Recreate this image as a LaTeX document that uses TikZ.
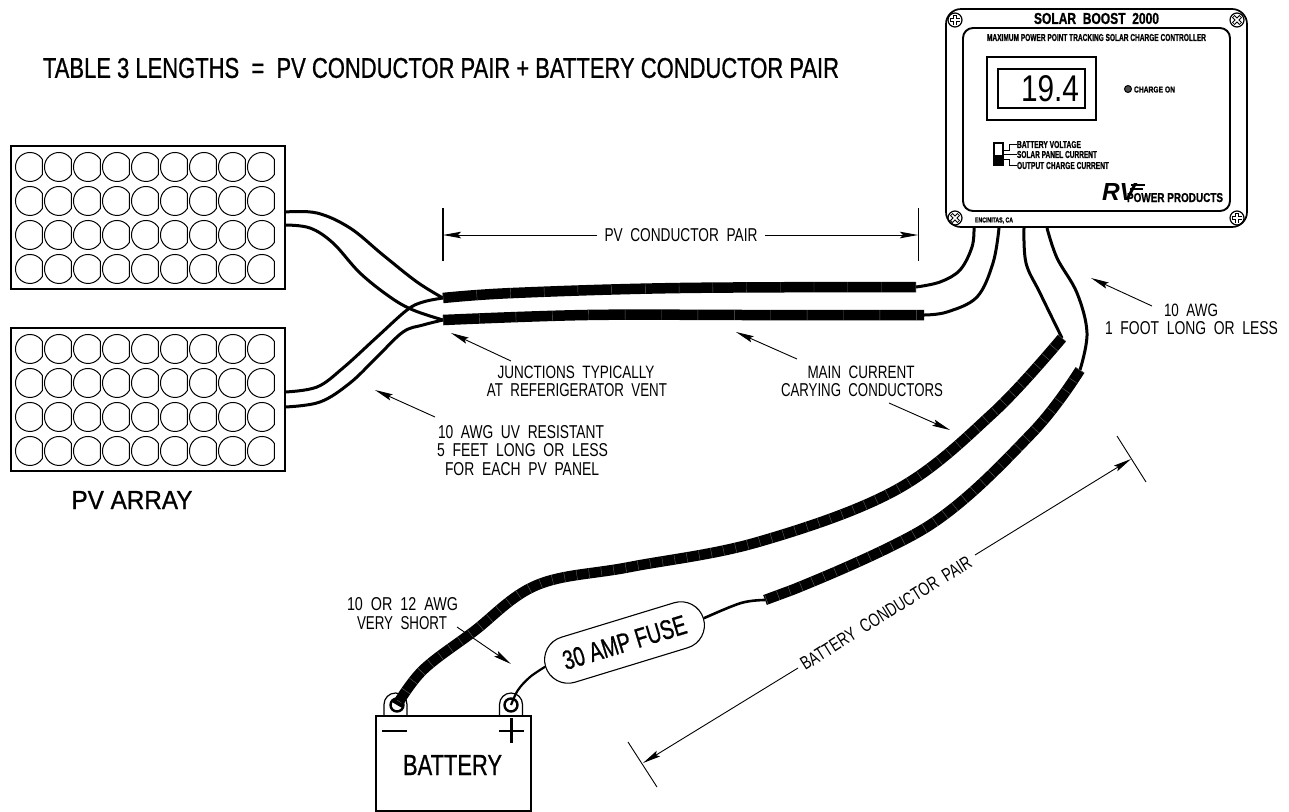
\documentclass[tikz,border=0pt]{standalone}
\usepackage{graphicx}
\usepackage{fontspec}
\setmainfont{Liberation Sans}
\newfontfamily\medf[FakeBold=.9]{Liberation Sans}
\newfontfamily\ctlfam[BoldFeatures={FakeBold=1.2}]{Liberation Sans}
\newcommand\ctl{\ctlfam\bfseries}
\usetikzlibrary{arrows.meta,shapes.misc}
\newlength\px \setlength\px{.75pt}
\newcommand\fitt[3]{\resizebox{#1\px}{#2\px}{#3}}
\newcommand\cable[3]{\draw[#1] #3; \draw[#1,black!62,line width=10\px,dash pattern=on .3pt off #2pt] #3;}
\newcommand\screw[3]{%
  \draw[thinline,line width=1.2\px] (#1,#2) circle[radius=7\px];
  \begin{scope}[shift={(#1,#2)},rotate=#3]
    \draw[line width=3.6\px] (-5.2\px,0pt)--(5.2\px,0pt) (0pt,-5.2\px)--(0pt,5.2\px);
    \draw[white,line width=1.6\px] (-4.5\px,0pt)--(4.5\px,0pt) (0pt,-4.5\px)--(0pt,4.5\px);
  \end{scope}}
\tikzset{
  thinline/.style={line width=1\px,black},
  boxline/.style={line width=1.4\px,black},
  lbl/.style={inner sep=0pt,outer sep=0pt,black},
  arrowline/.style={line width=.9\px,black,-{Stealth[length=13.5pt,width=4.9pt,inset=2.25pt]}},
  dimline/.style={line width=.9\px,black},
  wire/.style={line width=3\px,black,line cap=butt},
  fatwire/.style={line width=10.5\px,black,line cap=butt},
  lug/.style={line width=1.2\px,black},
  cell/.style={line width=1\px,black},
}
\begin{document}
\begin{tikzpicture}[x=.75pt,y=-.75pt]
\useasboundingbox[fill=white] (0,0) rectangle (1289,811);

% title
\node[lbl] (title) at (441,68) {\fitt{796}{20}{\medf TABLE 3 LENGTHS\ \ =\ \ PV CONDUCTOR PAIR + BATTERY CONDUCTOR PAIR}};

% PV panels
\node[draw,boxline,rectangle,minimum width=274\px,minimum height=143\px,inner sep=0pt] (panelA) at (148,217.5) {};
\node[draw,boxline,rectangle,minimum width=274\px,minimum height=143\px,inner sep=0pt] (panelB) at (148,399.5) {};
\foreach \cy in {167,201,235,269,349,383,417,451}
  \foreach \cx in {30,59,88,117,146,175,204,233,262}
    \draw[cell] (\cx+12.4,\cy-7.5) arc[start angle=31,end angle=329,radius=14.5\px] -- cycle;
\node[lbl] (pvarray) at (132,500) {\fitt{121}{18}{\medf PV ARRAY}};

% named wire ends
\coordinate (a1) at (285,212);
\coordinate (a2) at (285,225);
\coordinate (b1) at (285,392);
\coordinate (b2) at (285,407);
\coordinate (j1) at (443,298);
\coordinate (j2) at (443,320);
\coordinate (e1) at (916,287);
\coordinate (e2) at (924,315);
\coordinate (c1) at (974,228);
\coordinate (c2) at (999,228);
\coordinate (c3) at (1024,228);
\coordinate (c4) at (1047,228);
\coordinate (k3) at (1062,338);
\coordinate (k4) at (1080,370);
\coordinate (neg) at (397,705);
\coordinate (pos) at (511,705);

% panel leads
\draw[wire] plot[smooth,tension=.6] coordinates {(a1) (317,213) (350,228) (383,255) (417,282) (j1)};
\draw[wire] plot[smooth,tension=.6] coordinates {(a2) (310,228) (333,243) (360,273) (390,297) (413,310) (j2)};
\draw[wire] plot[smooth,tension=.6] coordinates {(b1) (317,387) (343,368) (377,337) (407,310) (423,302) (j1)};
\draw[wire] plot[smooth,tension=.6] coordinates {(b2) (320,402) (350,383) (377,357) (403,332) (423,325) (j2)};

% PV conductor pair
\cable{fatwire}{25}{plot[smooth,tension=.6] coordinates {(j1) (513,293) (680,288) (e1)}}
\cable{fatwire}{27}{plot[smooth,tension=.6] coordinates {(j2) (587,315) (750,315) (e2)}}

% controller leads
\draw[wire] plot[smooth,tension=.6] coordinates {(e1) (940,282) (960,270) (972,247) (c1)};
\draw[wire] plot[smooth,tension=.6] coordinates {(e2) (947,312) (977,297) (993,263) (c2)};
\draw[wire] plot[smooth,tension=.6] coordinates {(c3) (1026,263) (1040,293) (k3)};
\draw[wire] plot[smooth,tension=.6] coordinates {(c4) (1057,258) (1077,293) (1087,333) (k4)};

% battery conductor pair
\coordinate (f1) at (765,600);
\cable{fatwire}{9}{plot[smooth,tension=.6] coordinates {(k3) (993,413) (896,490) (758,542) (630,567) (537,585) (473,632) (423,670) (neg)}}
\cable{fatwire}{9}{plot[smooth,tension=.6] coordinates {(k4) (1032,433) (930,525) (792,590)} -- (f1)}

% fuse
\node[draw,line width=1.1\px,fill=white,shape=rounded rectangle,minimum width=165\px,minimum height=47\px,inner sep=0pt,rotate=17] (fuse) at (624.5,642.5) {\fitt{128}{19}{\medf 30 AMP FUSE}};
\draw[wire,line width=2.6\px] plot[smooth,tension=.6] coordinates {(f1) (741,603) (fuse.east)};
\draw[wire,line width=2.2\px] plot[smooth,tension=.6] coordinates {(fuse.west) (530,677) (518,690) (pos)};

% battery
\node[draw,boxline,rectangle,minimum width=155\px,minimum height=95\px,inner sep=0pt] (battery) at (453.5,763.5) {};
\node[lbl] (batterytxt) at (452.5,765) {\fitt{99}{20}{\medf BATTERY}};
\draw[lug] (384,716) -- (384,704.5) arc[start angle=180,end angle=0,radius=11.5\px] -- (407,716);
\draw[lug] (499.5,716) -- (499.5,704.5) arc[start angle=180,end angle=0,radius=11.5\px] -- (522.5,716);
\node[circle,draw,line width=2.4\px,minimum size=13\px,inner sep=0pt] (negpost) at (neg) {};
\node[circle,draw,line width=2.4\px,minimum size=13\px,inner sep=0pt] (pospost) at (pos) {};
\coordinate (m1) at (382,731); \coordinate (m2) at (407,731);
\draw[line width=2.6\px] (m1) -- (m2);
\coordinate (p1) at (499,731); \coordinate (p2) at (524,731);
\coordinate (p3) at (511.5,718); \coordinate (p4) at (511.5,743);
\draw[line width=2.6\px] (p1) -- (p2) (p3) -- (p4);

% controller
\node[draw,line width=1.7\px,rectangle,rounded corners=15\px,minimum width=301\px,minimum height=218\px,inner sep=0pt] (ctrl) at (1096.5,118) {};
\node[draw,line width=1.9\px,rectangle,rounded corners=10\px,minimum width=267\px,minimum height=183\px,inner sep=0pt] (face) at (1096.5,119.5) {};
\screw{955}{20}{0}
\screw{1237}{20}{45}
\screw{955}{218}{45}
\screw{1237}{218}{0}
\node[lbl] (ctitle) at (1096.5,18.5) {\fitt{125}{11}{\ctl SOLAR\ \ BOOST\ \ 2000}};
\node[lbl] (csub) at (1096.5,37.5) {\fitt{219}{7}{\ctl MAXIMUM POWER POINT TRACKING SOLAR CHARGE CONTROLLER}};
\node[draw,boxline,rectangle,minimum width=109\px,minimum height=63\px,inner sep=0pt] (dispo) at (1041.5,88.5) {};
\node[draw,boxline,rectangle,minimum width=87\px,minimum height=39\px,inner sep=0pt] (dispi) at (1041.5,88.5) {};
\node[lbl] (digits) at (1050,89) {\fitt{58}{26}{19.4}};
\node[circle,draw,fill=gray!60!black,line width=1\px,minimum size=7\px,inner sep=0pt] (led) at (1128,89) {};
\node[lbl] (chg) at (1154.5,89.5) {\fitt{41}{6}{\ctl CHARGE ON}};
\node[draw,line width=1.1\px,rectangle,minimum width=9\px,minimum height=22\px,inner sep=0pt] (sw) at (998.5,154) {};
\fill (994,155) rectangle (1003,165);
\node[lbl,anchor=west] (s1) at (1017,144.5) {\fitt{64}{7}{\ctl BATTERY VOLTAGE}};
\node[lbl,anchor=west] (s2) at (1017,154.5) {\fitt{80}{7}{\ctl SOLAR PANEL CURRENT}};
\node[lbl,anchor=west] (s3) at (1017,165.5) {\fitt{92}{7}{\ctl OUTPUT CHARGE CURRENT}};
\draw[thinline] (sw.east |- 0,150) -| (1009,144.5) -- (s1.west);
\draw[thinline] (sw.east |- 0,154.5) -- (s2.west);
\draw[thinline] (sw.east |- 0,159) -| (1009,165.5) -- (s3.west);
\node[lbl,anchor=north west] (rv) at (1102,183) {\fitt{34}{17}{\bfseries\itshape RV}};
\node[lbl,anchor=north west] (prod) at (1127,193) {\fitt{96}{9}{\ctl POWER PRODUCTS}};
\draw[line width=2\px] (1131,184.5) -- (1145,184.5) (1130,188.5) -- (1143,188.5);
\node[lbl] (encin) at (994,220.5) {\fitt{38}{5}{\ctl ENCINITAS, CA}};

% PV dimension
\coordinate (t1a) at (443,208); \coordinate (t1b) at (443,261);
\coordinate (t2a) at (918,208); \coordinate (t2b) at (918,261);
\draw[dimline,line width=1.1\px] (t1a) -- (t1b);
\draw[dimline] (t2a) -- (t2b);
\node[lbl] (pvdim) at (681,235) {\fitt{153}{13}{PV\ \ CONDUCTOR\ \ PAIR}};
\coordinate (pl) at (443,235); \coordinate (pr) at (918,235);
\coordinate (pgl) at (597,235); \coordinate (pgr) at (765,235);
\draw[arrowline] (pgl) -- (pl);
\draw[arrowline] (pgr) -- (pr);

% battery dimension
\coordinate (u1) at (1117,436); \coordinate (u2) at (1146,482);
\coordinate (l1) at (628,742); \coordinate (l2) at (657,787);
\draw[dimline] (u1) -- (u2);
\draw[dimline] (l1) -- (l2);
\coordinate (ut) at (1131,459); \coordinate (lt) at (643,763);
\coordinate (ug) at (975,555); \coordinate (lg) at (798,668);
\draw[arrowline] (ug) -- (ut);
\draw[arrowline] (lg) -- (lt);
\node[lbl,rotate=32] (batdim) at (886,613) {\fitt{198}{13}{BATTERY\ \ CONDUCTOR\ \ PAIR}};

% callouts
\node[lbl] (l1a) at (576,372) {\fitt{157}{12.5}{JUNCTIONS\ \ TYPICALLY}};
\node[lbl] (l1b) at (577,390.5) {\fitt{180}{13}{AT\ \ REFERIGERATOR\ \ VENT}};
\coordinate (ta1) at (511,361); \coordinate (tp1) at (451,333);
\draw[arrowline] (ta1) -- (tp1);
\node[lbl] (l2a) at (861,372) {\fitt{107}{12.5}{MAIN\ \ CURRENT}};
\node[lbl] (l2b) at (862,390.5) {\fitt{162}{13}{CARYING\ \ CONDUCTORS}};
\coordinate (ta2) at (797,359); \coordinate (tp2) at (736,332);
\coordinate (ta3) at (889,403); \coordinate (tp3) at (950,430);
\draw[arrowline] (ta2) -- (tp2);
\draw[arrowline] (ta3) -- (tp3);
\node[lbl] (l3a) at (521,432.5) {\fitt{166}{13}{10\ \ AWG\ \ UV\ \ RESISTANT}};
\node[lbl] (l3b) at (522.5,450.5) {\fitt{171}{13}{5\ \ FEET\ \ LONG\ \ OR\ \ LESS}};
\node[lbl] (l3c) at (522,469.5) {\fitt{154}{13}{FOR\ \ EACH\ \ PV\ \ PANEL}};
\coordinate (ta4) at (435,417); \coordinate (tp4) at (375,390);
\draw[arrowline] (ta4) -- (tp4);
\node[lbl] (l4a) at (1191,310) {\fitt{54}{12.5}{10\ \ AWG}};
\node[lbl] (l4b) at (1191.5,328) {\fitt{173}{13}{1\ \ FOOT\ \ LONG\ \ OR\ \ LESS}};
\coordinate (ta5) at (1152,306); \coordinate (tp5) at (1091,278);
\draw[arrowline] (ta5) -- (tp5);
\node[lbl] (l5a) at (402.5,604.5) {\fitt{111}{13}{10\ \ OR\ \ 12\ \ AWG}};
\node[lbl] (l5b) at (402,623.5) {\fitt{90}{13}{VERY\ \ SHORT}};
\coordinate (ta6) at (457,627); \coordinate (tp6) at (511,664);
\draw[arrowline] (ta6) -- (tp6);
\end{tikzpicture}
\end{document}
